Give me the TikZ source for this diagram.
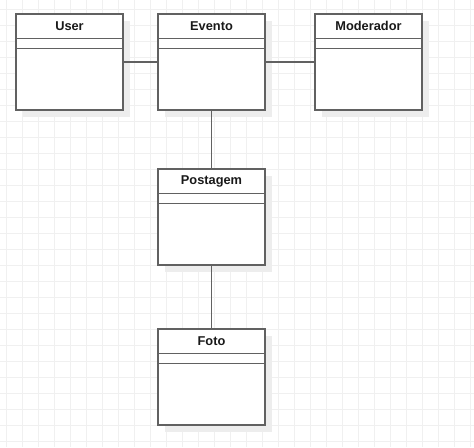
\documentclass[tikz,border=0pt]{standalone}
\usepackage{fontspec}
\setmainfont{Liberation Sans}
\begin{document}
\begin{tikzpicture}[x=0.75pt,y=-0.75pt,
  gridline/.style={draw=black!6,line width=0.75pt},
  umlbox/.style={draw=black!62,line width=0.9pt,fill=white},
  shadowbox/.style={fill=black!7,draw=none},
  conn/.style={draw=black!62,line width=0.9pt},
  title/.style={font=\bfseries\fontsize{9.6}{11}\selectfont,text=black!90}]
\useasboundingbox (0,0) rectangle (474,447);
\fill[white] (0,0) rectangle (474,447);
\foreach \i in {0,...,29} {\draw[gridline] (6.5+16*\i,0) -- (6.5+16*\i,447);}
\foreach \j in {0,...,27} {\draw[gridline] (0,9+16*\j) -- (474,9+16*\j);}
% class boxes: name, left, top
\foreach \n/\x/\y/\t in {user/16/14/User, evento/158/14/Evento, moder/315/14/Moderador, post/158/169/Postagem, foto/158/329/Foto} {
  \fill[shadowbox] (\x+7,\y+7) rectangle (\x+7+107,\y+7+96);
  \draw[umlbox] (\x,\y) rectangle (\x+107,\y+96);
  \draw[umlbox] (\x,\y+24.5) -- (\x+107,\y+24.5);
  \draw[umlbox] (\x,\y+34.5) -- (\x+107,\y+34.5);
  \coordinate (\n-nw) at (\x,\y);
  \node[title] (\n) at (\x+53.5,\y+12) {\t};
  \coordinate (\n-w) at (\x,\y+48);
  \coordinate (\n-e) at (\x+107,\y+48);
  \coordinate (\n-n) at (\x+53.5,\y);
  \coordinate (\n-s) at (\x+53.5,\y+96);
}
\draw[conn] (user-e) -- (evento-w);
\draw[conn] (evento-e) -- (moder-w);
\draw[conn] (evento-s) -- (post-n);
\draw[conn] (post-s) -- (foto-n);
\end{tikzpicture}
\end{document}
